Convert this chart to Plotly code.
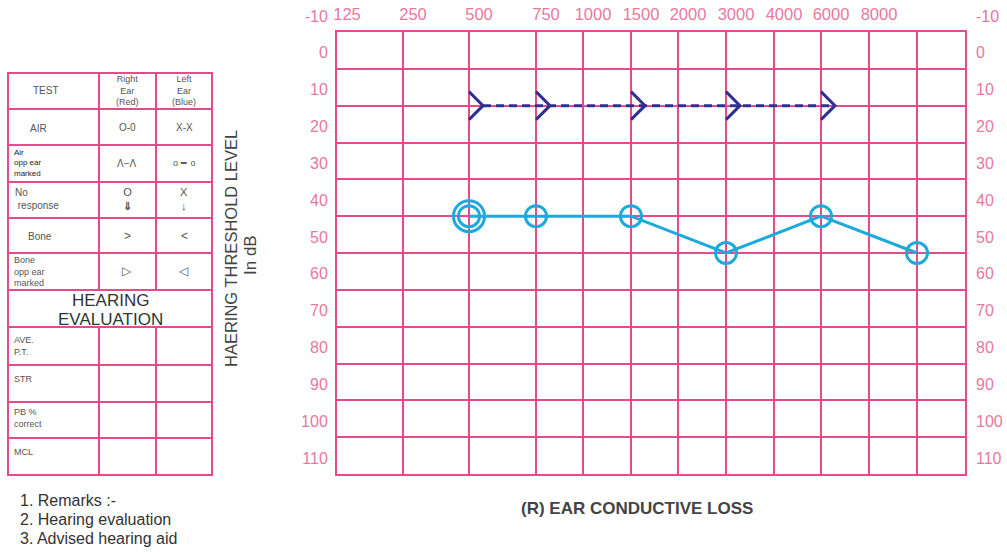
import plotly.graph_objects as go

# --- audiogram data ---------------------------------------------------------
freq_labels = ["125", "250", "500", "750", "1000", "1500", "2000",
               "3000", "4000", "6000", "8000", ""]
db_ticks = [-10, 0, 10, 20, 30, 40, 50, 60, 70, 80, 90, 100, 110]

# right ear air conduction (open circles, cyan line)
air_freqs = ["500", "750", "1500", "3000", "6000", ""]
air_db = [40, 40, 40, 50, 40, 50]

# second ring drawn round the first point
ring_freqs = ["500"]
ring_db = [40]

# dashed ">" series
bone_freqs = ["500", "750", "1500", "3000", "6000"]
bone_db = [10, 10, 10, 10, 10]

# --- layout constants -------------------------------------------------------
W, H = 1007, 552
PINK = "#e8488c"
LABEL_PINK = "#e7789f"
CYAN = "#1ca9dc"
NAVY = "#2e3192"
TXT = "#555555"
FONT = "Liberation Sans, Arial, sans-serif"

GRID_L, GRID_R, GRID_T, GRID_B = 337, 965, 32, 474
# column line positions in px from the left edge of the grid (form is not log spaced)
col_pos = [0, 66, 132, 199, 246, 294, 341, 389, 437, 484, 532, 580]
xpos = dict(zip(freq_labels, col_pos))

ARROW_DX = 14          # chevron depth in px
ARROW_DY = 3.8         # chevron half height in dB


def px(x):
    return x / W


def py(y):
    return 1 - y / H


fig = go.Figure()

# cyan air line
fig.add_trace(go.Scatter(
    x=[xpos[f] for f in air_freqs], y=air_db, mode="lines+markers",
    line=dict(color=CYAN, width=3),
    marker=dict(symbol="circle-open", size=21, color=CYAN, line=dict(width=3)),
    showlegend=False, hoverinfo="skip",
))
fig.add_trace(go.Scatter(
    x=[xpos[f] for f in ring_freqs], y=ring_db, mode="markers",
    marker=dict(symbol="circle-open", size=31, color=CYAN, line=dict(width=3)),
    showlegend=False, hoverinfo="skip",
))

# navy dashed line through chevron tips
tips_x = [xpos[f] + ARROW_DX for f in bone_freqs]
fig.add_trace(go.Scatter(
    x=tips_x, y=bone_db, mode="lines",
    line=dict(color=NAVY, width=3, dash="8px,5px"),
    showlegend=False, hoverinfo="skip",
))
chev_x, chev_y = [], []
for f, d in zip(bone_freqs, bone_db):
    chev_x += [xpos[f], xpos[f] + ARROW_DX, xpos[f], None]
    chev_y += [d - ARROW_DY, d, d + ARROW_DY, None]
fig.add_trace(go.Scatter(
    x=chev_x, y=chev_y, mode="lines",
    line=dict(color=NAVY, width=3),
    showlegend=False, hoverinfo="skip",
))
# dummy trace so the right-hand dB axis gets drawn
fig.add_trace(go.Scatter(x=[None], y=[None], yaxis="y2", showlegend=False, hoverinfo="skip"))

x_font = dict(family=FONT, size=16.5, color=LABEL_PINK)
y_font = dict(family=FONT, size=16, color=LABEL_PINK)
db_text = [str(v) for v in db_ticks]   # plain hyphen on -10, as printed on the form
fig.update_layout(
    width=W, height=H,
    margin=dict(l=0, r=0, t=0, b=0, autoexpand=False),
    paper_bgcolor="white", plot_bgcolor="white",
    xaxis=dict(
        domain=[px(GRID_L), px(GRID_R)], range=[0, GRID_R - GRID_L],
        side="top", tickvals=col_pos + [GRID_R - GRID_L], ticktext=freq_labels + [""],
        showgrid=True, gridcolor=PINK, gridwidth=2, zeroline=False,
        showline=True, mirror=True, linecolor=PINK, linewidth=2,
        ticks="", tickfont=x_font, ticklabelshift=10, ticklabelstandoff=3,
        ticklabeloverflow="allow", fixedrange=True, automargin=False,
    ),
    yaxis=dict(
        domain=[py(GRID_B), py(GRID_T)], range=[110, -10],
        tickvals=db_ticks, ticktext=db_text,
        showgrid=True, gridcolor=PINK, gridwidth=2, zeroline=False,
        showline=True, mirror=True, linecolor=PINK, linewidth=2,
        ticks="", tickfont=y_font, ticklabelshift=16, ticklabelstandoff=4,
        ticklabeloverflow="allow", fixedrange=True, automargin=False,
    ),
    yaxis2=dict(
        overlaying="y", side="right", anchor="x", range=[110, -10],
        tickvals=db_ticks, ticktext=db_text,
        showgrid=False, zeroline=False, showline=False,
        ticks="", tickfont=y_font, ticklabelshift=16, ticklabelstandoff=10,
        ticklabeloverflow="allow", fixedrange=True, automargin=False,
    ),
)

# --- left-hand legend table (form) ------------------------------------------
TBL_L, TBL_R, TBL_T, TBL_B = 8, 212, 73, 475
C1, C2 = 99, 156
upper_rows = [109, 145, 182, 218, 253, 290]
lower_rows = [327, 365, 402, 438]

shapes = [dict(type="rect", xref="paper", yref="paper",
               x0=px(TBL_L), x1=px(TBL_R), y0=py(TBL_B), y1=py(TBL_T),
               line=dict(color=PINK, width=2))]
for yy in upper_rows + lower_rows:
    shapes.append(dict(type="line", xref="paper", yref="paper",
                       x0=px(TBL_L), x1=px(TBL_R), y0=py(yy), y1=py(yy),
                       line=dict(color=PINK, width=2)))
for xx in (C1, C2):
    for a, b in ((TBL_T, 290), (327, TBL_B)):
        shapes.append(dict(type="line", xref="paper", yref="paper",
                           x0=px(xx), x1=px(xx), y0=py(a), y1=py(b),
                           line=dict(color=PINK, width=2)))
fig.update_layout(shapes=shapes)


def note(text, x, y, size=9, anchor="center", color=TXT, bold=False, angle=0):
    if bold:
        text = "<b>" + text + "</b>"
    fig.add_annotation(text=text, x=px(x), y=py(y), xref="paper", yref="paper",
                       xanchor=anchor, yanchor="middle", showarrow=False,
                       align="left" if anchor == "left" else "center",
                       textangle=angle,
                       font=dict(family=FONT, size=size, color=color))


note("TEST", 46, 90, size=10)
note("Right<br>Ear<br>(Red)", 127, 90, size=9)
note("Left<br>Ear<br>(Blue)", 184, 90, size=9)
note("AIR", 38, 128, size=10)
note("O-0", 127, 127, size=10)
note("X-X", 184, 127, size=10)
note("Air<br>opp ear<br>marked", 12, 163, size=8, anchor="left", color="#222")
note("Λ−Λ", 127, 163, size=10)
note("o <b>━</b>  o", 184, 163, size=9)
note("No<br> response", 13, 199, size=10, anchor="left")
note("O<br><b>⇓</b>", 127, 199, size=11)
note("X<br><b>↓</b>", 184, 199, size=11)
note("Bone", 40, 236, size=10)
note(">", 127, 236, size=12)
note("<", 184, 236, size=12)
note("Bone<br>opp ear<br>marked", 12, 271, size=9, anchor="left")
note("▷", 127, 271, size=12)
note("◁", 184, 271, size=12)
note("HEARING", 110, 300, size=17, color="#333")
note("EVALUATION", 110, 319, size=17, color="#333")
note("AVE.<br>P.T.", 12, 346, size=9, anchor="left")
note("STR", 12, 379, size=9, anchor="left")
note("PB %<br>correct", 12, 418, size=9, anchor="left")
note("MCL", 12, 452, size=9, anchor="left")

note("1. Remarks :-", 18, 500, size=16, anchor="left", color="#333")
note("2. Hearing evaluation", 18, 519, size=16, anchor="left", color="#333")
note("3. Advised hearing aid", 18, 538, size=16, anchor="left", color="#333")

note("HAERING THRESHOLD LEVEL", 231, 249, size=16.5, angle=-90, color="#444")
note("In dB", 251, 255, size=17, angle=-90, color="#444")

note("(R) EAR CONDUCTIVE LOSS", 637, 508, size=17, bold=True, color="#444")

# drop the default page margin so the figure sits at the window origin
fig.write_html("out.html", config={"displayModeBar": False},
               post_script="document.body.style.margin='0';document.body.style.overflow='hidden';")
